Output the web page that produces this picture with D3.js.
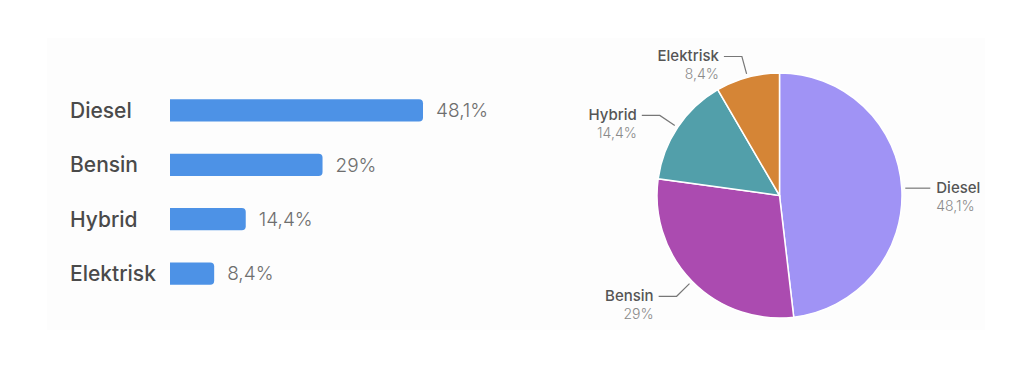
<!DOCTYPE html>
<meta charset="utf-8">
<title>Drivstoff</title>
<style>
body { margin: 0; background: #fff; }
text { font-family: Inter, "Noto Sans", sans-serif; }
.cat { fill: #4a4a4a; font-weight: 500; font-size: 21px; }
.val { fill: #6e6e6e; font-weight: 300; font-size: 19px; }
.pname { fill: #555; font-weight: 500; font-size: 15px; }
.ppct { fill: #8a8a8a; font-weight: 300; font-size: 14px; }
.lead { stroke: #777; stroke-width: 1.2; fill: none; }
</style>
<svg width="1024" height="378"></svg>
<script src="https://d3js.org/d3.v7.min.js"></script>
<script>

// data
var categories = ["Diesel", "Bensin", "Hybrid", "Elektrisk"];
var shares = [48.1, 29, 14.4, 8.4];
var shareLabels = ["48,1%", "29%", "14,4%", "8,4%"];
var pieColors = ["#a093f5", "#ab4bb0", "#529faa", "#d58536"];

var svg = d3.select("svg");

//faint card behind both charts
svg.append("rect")
    .attr("x", 47).attr("y", 38)
    .attr("width", 938).attr("height", 292)
    .attr("fill", "#fdfdfd");

// ---- bar chart ----
var x = d3.scaleLinear().domain([0, 48.1]).range([170, 423]);
var y = d3.scaleBand().domain(categories).range([83, 301]).paddingInner(0.59).paddingOuter(0.3);

var bars = svg.append("g");

//bars: square left, rounded right
function barPath(d, i) {
  var x0 = x(0), x1 = x(shares[i]), y0 = y(d), h = y.bandwidth(), r = 4;
  return "M" + x0 + "," + y0 +
    "H" + (x1 - r) +
    "Q" + x1 + "," + y0 + " " + x1 + "," + (y0 + r) +
    "V" + (y0 + h - r) +
    "Q" + x1 + "," + (y0 + h) + " " + (x1 - r) + "," + (y0 + h) +
    "H" + x0 + "Z";
}

bars.selectAll("path")
  .data(categories)
  .enter().append("path")
    .attr("d", barPath)
    .attr("fill", "#4d92e6");

bars.selectAll("text.cat")
  .data(categories)
  .enter().append("text")
    .attr("class", "cat")
    .attr("x", 70)
    .attr("y", function(d) { return y(d) + y.bandwidth() / 2; })
    .attr("dy", "0.36em")
    .text(function(d) { return d; });

bars.selectAll("text.val")
  .data(categories)
  .enter().append("text")
    .attr("class", "val")
    .attr("x", function(d, i) { return x(shares[i]) + 13; })
    .attr("y", function(d) { return y(d) + y.bandwidth() / 2; })
    .attr("dy", "0.36em")
    .text(function(d, i) { return shareLabels[i]; });

// ---- pie chart ----
var cx = 779.5, cy = 195.5, radius = 122.5;

var pie = d3.pie().sort(null).value(function(d) { return d.v; });
var arcs = pie(categories.map(function(c, i) { return {name: c, v: shares[i], label: shareLabels[i], color: pieColors[i]}; }));

var arc = d3.arc().innerRadius(0).outerRadius(radius);

var g = svg.append("g").attr("transform", "translate(" + cx + "," + cy + ")");

g.selectAll("path")
  .data(arcs)
  .enter().append("path")
    .attr("d", arc)
    .attr("fill", function(d) { return d.data.color; })
    .attr("stroke", "#fff")
    .attr("stroke-width", 1.5);

//leader lines
var inner = d3.arc().innerRadius(126).outerRadius(126);
var outer = d3.arc().innerRadius(144).outerRadius(144);

function mid(d) { return (d.startAngle + d.endAngle) / 2; }

function leadPts(d) {
  var a = inner.centroid(d), b = outer.centroid(d);
  var right = mid(d) < Math.PI;
  if (Math.abs(Math.sin(mid(d))) > 0.99) {
    // nearly horizontal: one straight segment
    b = [a[0] + (right ? 12 : -12), a[1]];
    return [a, b, [a[0] + (right ? 25 : -25), a[1]]];
  }
  var c = [b[0] + (right ? 18 : -18), b[1]];
  return [a, b, c];
}

g.selectAll("polyline")
  .data(arcs)
  .enter().append("polyline")
    .attr("class", "lead")
    .attr("points", function(d) { return leadPts(d).map(function(p) { return p.join(","); }).join(" "); });

var labels = g.selectAll("g.lbl")
  .data(arcs)
  .enter().append("g")
    .attr("class", "lbl")
    .attr("text-anchor", function(d) { return mid(d) < Math.PI ? "start" : "end"; })
    .attr("transform", function(d) {
      var c = leadPts(d)[2];
      return "translate(" + (c[0] + (mid(d) < Math.PI ? 6 : -5)) + "," + c[1] + ")";
    });

labels.append("text")
    .attr("class", "pname")
    .attr("y", 5)
    .text(function(d) { return d.data.name; });

labels.append("text")
    .attr("class", "ppct")
    .attr("y", 23)
    .text(function(d) { return d.data.label; });

</script>
